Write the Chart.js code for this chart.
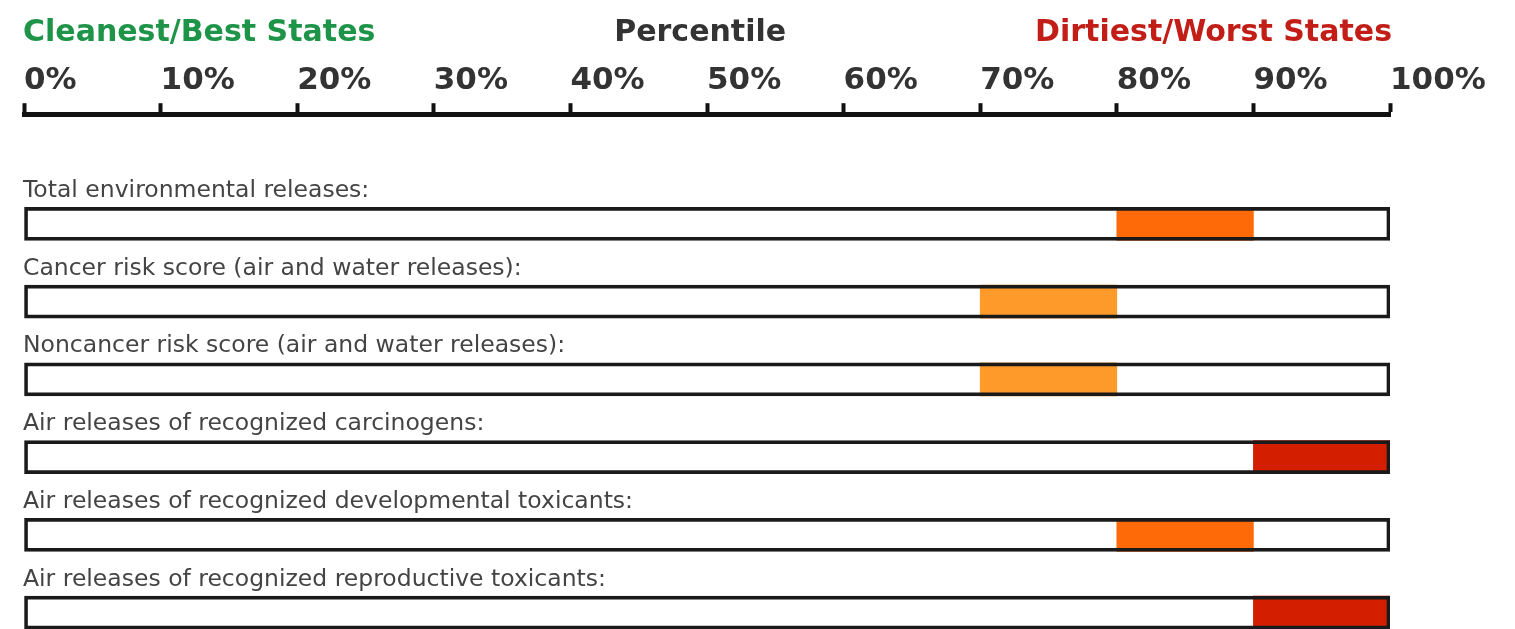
<!DOCTYPE html>
<html>
<head>
<meta charset="utf-8">
<script src="https://cdn.jsdelivr.net/npm/chart.js@4"></script>
<style>
  html, body { margin: 0; padding: 0; background: #fff; overflow: hidden; }
  #wrap { width: 1515px; height: 629px; position: relative; }
</style>
</head>
<body>
<div id="wrap"><canvas id="percentileChart"></canvas></div>
<script>
// Percentile ranking of the state, one row per measure
const rowLabels = [
  "Total environmental releases:",
  "Cancer risk score (air and water releases):",
  "Noncancer risk score (air and water releases):",
  "Air releases of recognized carcinogens:",
  "Air releases of recognized developmental toxicants:",
  "Air releases of recognized reproductive toxicants:"
];
const rangeStart = [80, 70, 70, 90, 80, 90];
const rangeEnd = [90, 80, 80, 100, 90, 100];
const tickValues = [0, 10, 20, 30, 40, 50, 60, 70, 80, 90, 100];
const headerLabels = ["Cleanest/Best States", "Percentile", "Dirtiest/Worst States"];

// colour of the segment depends on which decile it sits in
function tierColor(start) {
  if (start >= 90) return "#d41e00";
  if (start >= 80) return "#ff6a08";
  return "#fd9a2a";
}

const headerPlugin = {
  id: "headerText",
  afterDraw(chart) {
    const { ctx, scales: { x, y } } = chart;
    ctx.save();
    // row captions sit just above each bar
    ctx.font = '23.5px "DejaVu Sans"';
    ctx.fillStyle = "#444";
    ctx.textAlign = "left";
    ctx.textBaseline = "alphabetic";
    rowLabels.forEach((t, i) => {
      ctx.fillText(t, x.getPixelForValue(0) - 1, y.getPixelForValue(i) - 27);
    });
    // headings over the axis
    ctx.font = 'bold 30px "DejaVu Sans"';
    ctx.fillStyle = "#1d9447";
    ctx.fillText(headerLabels[0], x.getPixelForValue(0) - 1, 41);
    ctx.fillStyle = "#333";
    ctx.textAlign = "center";
    ctx.fillText(headerLabels[1], x.getPixelForValue(49.5), 41);
    ctx.fillStyle = "#c21d17";
    ctx.textAlign = "right";
    ctx.fillText(headerLabels[2], x.getPixelForValue(100) + 2, 41);
    ctx.restore();
  }
};

const ctx = document.getElementById("percentileChart");
new Chart(ctx, {
  type: "bar",
  data: {
    datasets: [
      {
        label: "outline",
        data: rowLabels.map((_, i) => ({ x: [0, 100], y: i })),
        backgroundColor: "rgba(0,0,0,0)",
        borderColor: "#1a1a1a",
        borderWidth: 3,
        borderSkipped: false,
        barThickness: 33,
        grouped: false,
        order: 0
      },
      {
        label: "percentile",
        data: rowLabels.map((_, i) => ({ x: [rangeStart[i], rangeEnd[i]], y: i })),
        backgroundColor: rangeStart.map(tierColor),
        borderWidth: 0,
        barThickness: 33,
        grouped: false,
        order: 1
      }
    ]
  },
  options: {
    indexAxis: "y",
    responsive: true,
    maintainAspectRatio: false,
    animation: false,
    layout: { padding: { top: 58, left: 24, right: 125, bottom: 0 } },
    scales: {
      x: {
        type: "linear",
        position: "top",
        min: 0,
        max: 100,
        afterBuildTicks: (scale) => { scale.ticks = tickValues.map(v => ({ value: v })); },
        ticks: {
          align: "start",
          padding: 4,
          color: "#333",
          font: { family: "DejaVu Sans", size: 31, weight: "bold" },
          callback: (v) => v + "%"
        },
        grid: {
          drawOnChartArea: false,
          tickLength: 11,
          tickWidth: 4,
          tickColor: "#111"
        },
        border: { color: "#111", width: 5 }
      },
      y: {
        type: "linear",
        reverse: true,
        offset: false,
        min: -1.41,
        max: 5.21,
        display: false
      }
    },
    plugins: {
      legend: { display: false },
      tooltip: { enabled: false }
    }
  },
  plugins: [headerPlugin]
});
</script>
</body>
</html>
